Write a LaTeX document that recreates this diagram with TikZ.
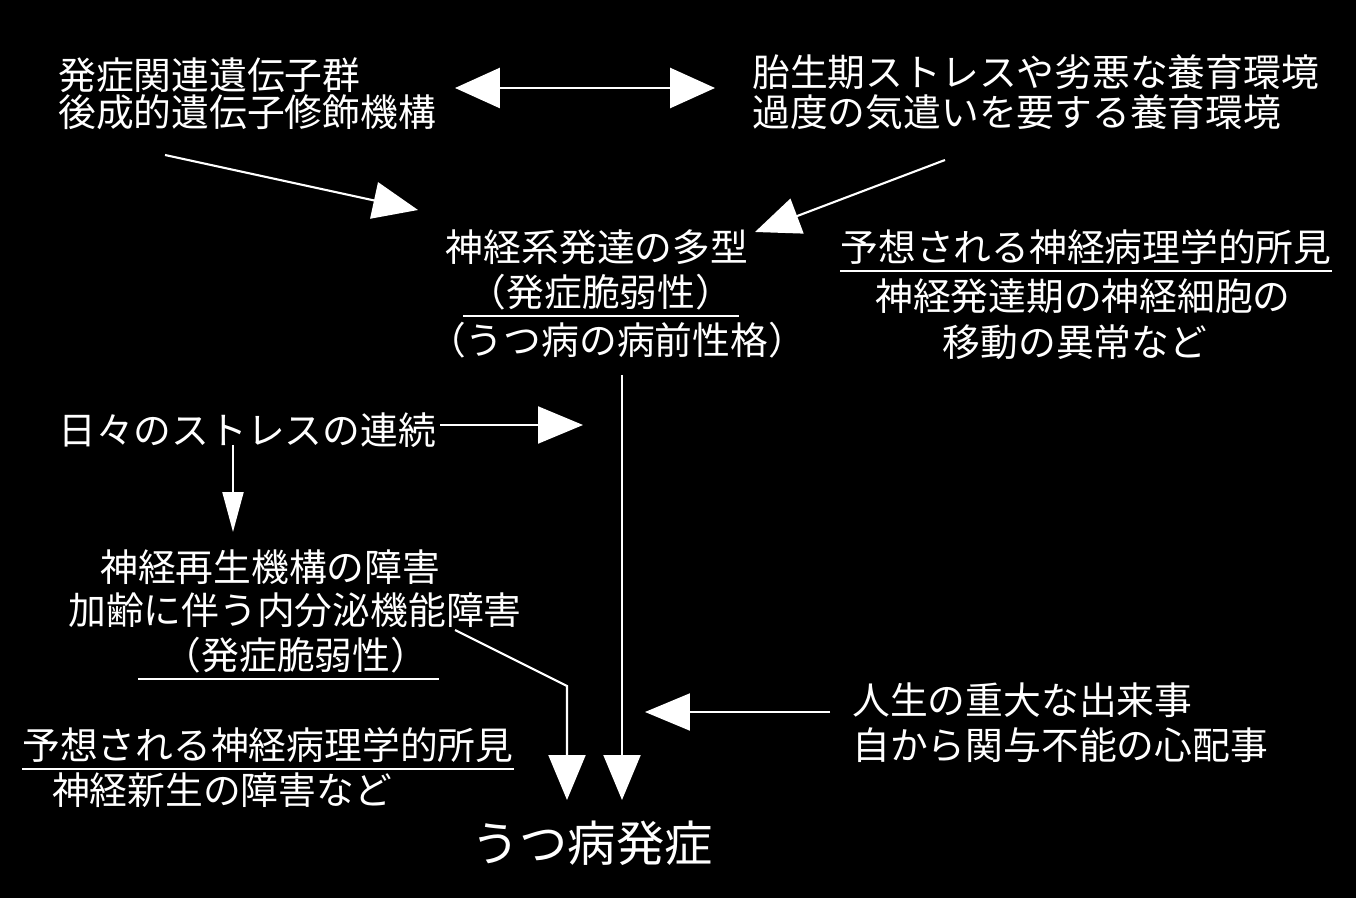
\documentclass[tikz,border=0pt]{standalone}
\usepackage{fontspec}
\newfontfamily\jp{Noto Sans CJK JP}
\usetikzlibrary{arrows.meta}
\begin{document}
\begin{tikzpicture}[x=0.02cm,y=-0.02cm,
  txt/.style={text=white, font=\jp\fontsize{21.5pt}{26pt}\selectfont, inner sep=0pt},
  bigtxt/.style={text=white, font=\jp\fontsize{27.5pt}{32pt}\selectfont, inner sep=0pt},
  arr/.style={draw=white, line width=1.2pt, -{Triangle[length=0.9cm,width=0.74cm]}},
  smallarr/.style={draw=white, line width=1.2pt, -{Triangle[length=0.8cm,width=0.42cm]}},
  dblarr/.style={draw=white, line width=1.6pt, {Triangle[length=0.9cm,width=0.8cm]}-{Triangle[length=0.9cm,width=0.8cm]}},
  uline/.style={draw=white, line width=1.3pt}]
\fill[black] (0,0) rectangle (1356,898);
\useasboundingbox (0,0) rectangle (1356,898);

% texts
\node[txt, anchor=west] (a1) at (58,75) {発症関連遺伝子群};
\node[txt, anchor=west] (a2) at (58,112) {後成的遺伝子修飾機構};
\node[txt, anchor=west] (b1) at (752,72) {胎生期ストレスや劣悪な養育環境};
\node[txt, anchor=west] (b2) at (752,112) {過度の気遣いを要する養育環境};
\node[txt] (c1) at (597,247) {神経系発達の多型};
\node[txt] (c2) at (601,292) {（発症脆弱性）};
\node[txt] (c3) at (617,340) {（うつ病の病前性格）};
\node[txt] (d1) at (1086,247) {予想される神経病理学的所見};
\node[txt] (d2) at (1083,296) {神経発達期の神経細胞の};
\node[txt] (d3) at (1075,342) {移動の異常など};
\node[txt, anchor=west] (e) at (58,430) {日々のストレスの連続};
\node[txt, anchor=west] (f1) at (100,567) {神経再生機構の障害};
\node[txt, anchor=west] (f2) at (68,610) {加齢に伴う内分泌機能障害};
\node[txt] (f3) at (296,655) {（発症脆弱性）};
\node[txt, anchor=west] (g1) at (852,700) {人生の重大な出来事};
\node[txt, anchor=west] (g2) at (852,745) {自から関与不能の心配事};
\node[txt, anchor=west] (h1) at (22,745) {予想される神経病理学的所見};
\node[txt] (h2) at (222,790) {神経新生の障害など};
\node[bigtxt] (i) at (592,843) {うつ病発症};

% underlines
\draw[uline] ([xshift=-0.1cm,yshift=-0.12cm]c2.south west) -- ([xshift=0.1cm,yshift=-0.12cm]c2.south east);
\draw[uline] ([yshift=-0.12cm]d1.south west) -- ([yshift=-0.12cm]d1.south east);
\draw[uline] ([xshift=-0.5cm,yshift=-0.12cm]f3.south west) -- ([xshift=0.2cm,yshift=-0.12cm]f3.south east);
\draw[uline] ([yshift=-0.12cm]h1.south west) -- ([yshift=-0.12cm]h1.south east);

% arrow end points
\coordinate (p1) at (455,88);
\coordinate (p2) at (715,88);
\coordinate (q1) at (165,155);
\coordinate (q2) at (418,210);
\coordinate (r1) at (945,160);
\coordinate (r2) at (755,232);
\coordinate (s1) at (622,375);
\coordinate (s2) at (622,800);
\coordinate (t1) at (440,425);
\coordinate (t2) at (583,425);
\coordinate (u1) at (233,445);
\coordinate (u2) at (233,532);
\coordinate (v1) at (455,630);
\coordinate (v2) at (567,686);
\coordinate (v3) at (567,800);
\coordinate (w1) at (830,712);
\coordinate (w2) at (645,712);

% arrows
\draw[dblarr] (p1) -- (p2);
\draw[arr] (q1) -- (q2);
\draw[arr] (r1) -- (r2);
\draw[arr] (s1) -- (s2);
\draw[arr] (t1) -- (t2);
\draw[smallarr] (u1) -- (u2);
\draw[arr] (v1) -- (v2) -- (v3);
\draw[arr] (w1) -- (w2);
\end{tikzpicture}
\end{document}
